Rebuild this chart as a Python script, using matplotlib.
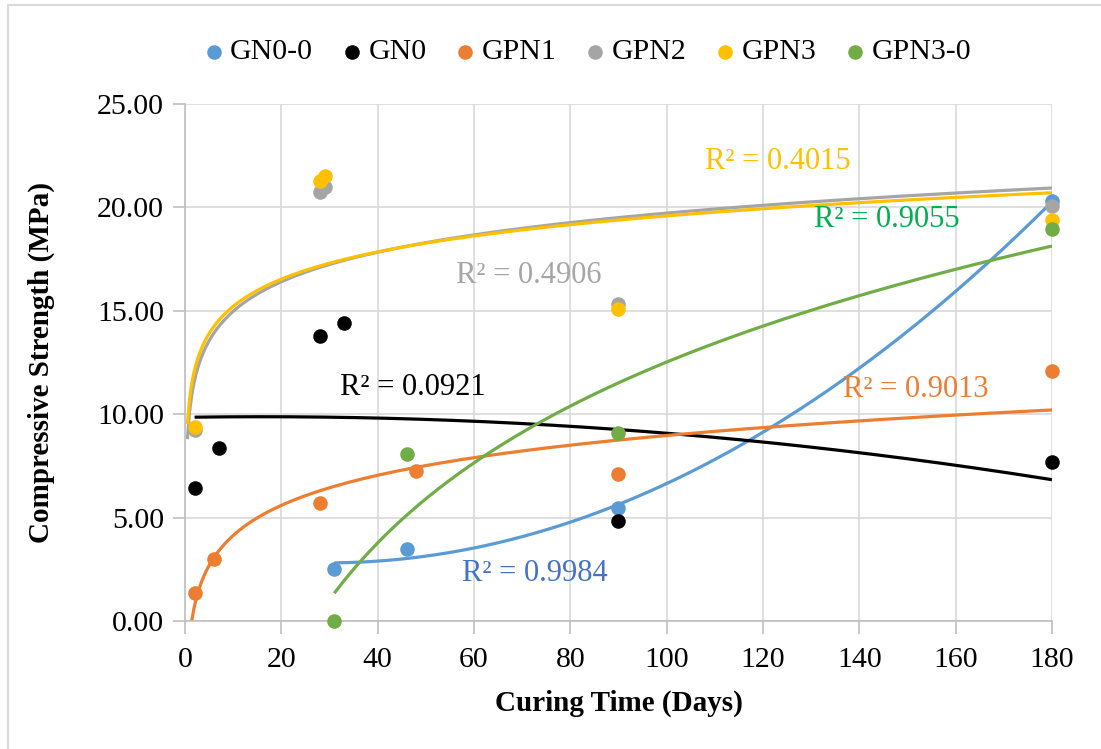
import numpy as np
import matplotlib
matplotlib.use("Agg")
import matplotlib.pyplot as plt
from matplotlib.lines import Line2D

plt.rcParams['font.family'] = ['Liberation Serif', 'DejaVu Serif']

# curing time (days) and compressive strength (MPa) per mix
gn00_days = [31, 46, 90, 180]
gn00_mpa = [2.5, 3.48, 5.46, 20.3]

gn0_days = [2, 7, 28, 33, 90, 180]
gn0_mpa = [6.43, 8.37, 13.78, 14.41, 4.84, 7.69]

gpn1_days = [2, 6, 28, 48, 90, 180]
gpn1_mpa = [1.35, 3.0, 5.7, 7.25, 7.1, 12.09]

gpn2_days = [2, 28, 29, 90, 180]
gpn2_mpa = [9.24, 20.74, 21.0, 15.33, 20.07]

gpn3_days = [2, 28, 29, 90, 180]
gpn3_mpa = [9.38, 21.3, 21.5, 15.1, 19.39]

gpn30_days = [31, 46, 90, 180]
gpn30_mpa = [0.0, 8.07, 9.09, 18.94]

names = ['GN0-0', 'GN0', 'GPN1', 'GPN2', 'GPN3', 'GPN3-0']
r2_text = ['R² = 0.9984', 'R² = 0.0921', 'R² = 0.9013',
           'R² = 0.4906', 'R² = 0.4015', 'R² = 0.9055']

colors = ['#5B9BD5', '#000000', '#ED7D31', '#A5A5A5', '#FFC000', '#70AD47']
label_colors = ['#4472C4', '#000000', '#ED7D31', '#A5A5A5', '#FFC000', '#00B050']
label_pos = [(72.7, 2.3), (47.3, 11.3), (151.8, 11.2),
             (71.4, 16.7), (123, 22.2), (145.7, 19.4)]

# trendline type: 'poly' = 2nd order polynomial, 'log' = logarithmic
trend_kind = ['poly', 'poly', 'log', 'log', 'log', 'log']
trend_start = [31, 2, 0.5, 0.5, 0.5, 31]

series = [(gn00_days, gn00_mpa), (gn0_days, gn0_mpa), (gpn1_days, gpn1_mpa),
          (gpn2_days, gpn2_mpa), (gpn3_days, gpn3_mpa), (gpn30_days, gpn30_mpa)]

fig = plt.figure(figsize=(11.01, 7.49), dpi=100)
ax = fig.add_axes([0.168, 0.171, 0.7875, 0.69])

for i, (d, s) in enumerate(series):
    d = np.array(d, float)
    s = np.array(s, float)
    xs = np.linspace(trend_start[i], 180, 400)
    if trend_kind[i] == 'poly':
        c = np.polyfit(d, s, 2)
        ys = np.polyval(c, xs)
    else:
        c = np.polyfit(np.log(d), s, 1)
        ys = np.polyval(c, np.log(xs))
    ax.plot(xs, ys, color=colors[i], lw=2.3, zorder=2, solid_capstyle='butt')

for i, (d, s) in enumerate(series):
    ax.scatter(d, s, s=110, color=colors[i], zorder=3, linewidths=0,
               label=names[i], clip_on=False)

for i in range(len(names)):
    ax.text(label_pos[i][0], label_pos[i][1], r2_text[i], color=label_colors[i],
            fontsize=22, ha='center', va='center', zorder=4)

ax.set_xlim(0, 180)
ax.set_ylim(0, 25)
ax.set_xticks(np.arange(0, 181, 20))
ax.set_yticks(np.arange(0, 25.1, 5))
ax.yaxis.set_major_formatter(matplotlib.ticker.FormatStrFormatter('%.2f'))
ax.grid(True, color='#D9D9D9', lw=1.2, zorder=0)
ax.set_axisbelow(True)
for side in ['top', 'right']:
    ax.spines[side].set_visible(False)
for side in ['left', 'bottom']:
    ax.spines[side].set_color('#BFBFBF')
    ax.spines[side].set_linewidth(1.2)
ax.tick_params(axis='both', colors='#BFBFBF', labelcolor='black',
               labelsize=21.5, length=9, width=1.2, direction='out')
ax.tick_params(axis='y', pad=6)
ax.tick_params(axis='x', pad=10)

ax.set_xlabel('Curing Time (Days)', fontsize=21, fontweight='bold', labelpad=12)
ax.set_ylabel('Compressive Strength (MPa)', fontsize=21, fontweight='bold', labelpad=30)

ax.legend(loc='upper center', bbox_to_anchor=(0.465, 1.15), ncol=6, frameon=False,
          fontsize=21.5, handlelength=0.6, handletextpad=0.25, columnspacing=1.0,
          markerscale=1.0, borderaxespad=0)

# chart border
fig.add_artist(Line2D([8 / 1101, 8 / 1101], [0, 1 - 5 / 749], color='#D9D9D9', lw=1.5))
fig.add_artist(Line2D([8 / 1101, 1], [1 - 5 / 749, 1 - 5 / 749], color='#D9D9D9', lw=1.5))

fig.savefig('out.png', dpi=100)
